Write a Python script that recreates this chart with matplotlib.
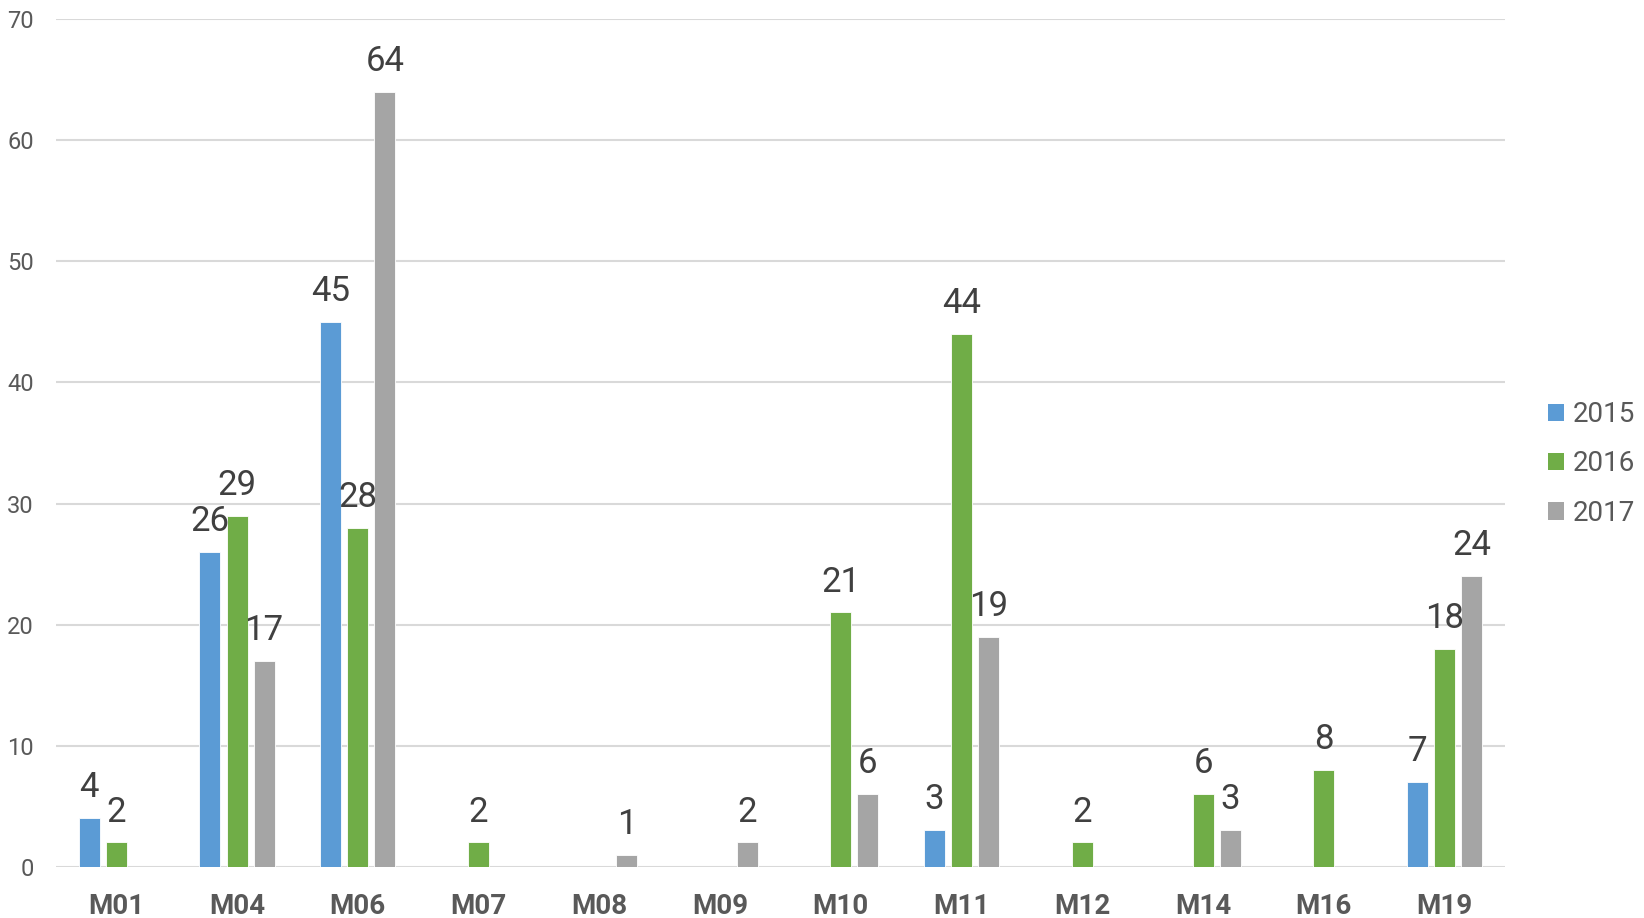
import numpy as np
import matplotlib.pyplot as plt
from matplotlib.patches import Patch

plt.rcParams['font.family'] = ['Roboto', 'DejaVu Sans']

# chart values
categories = ['M01', 'M04', 'M06', 'M07', 'M08', 'M09', 'M10', 'M11', 'M12', 'M14', 'M16', 'M19']
years = ['2015', '2016', '2017']
v2015 = [4, 26, 45, 0, 0, 0, 0, 3, 0, 0, 0, 7]
v2016 = [2, 29, 28, 2, 0, 0, 21, 44, 2, 6, 8, 18]
v2017 = [0, 17, 64, 0, 1, 2, 6, 19, 0, 3, 0, 24]
yticks = [0, 10, 20, 30, 40, 50, 60, 70]

colors = ['#5B9BD5', '#70AD47', '#A5A5A5']

fig = plt.figure(figsize=(16.44, 9.18), dpi=100)
ax = fig.add_axes([0.034, 0.0559, 0.8815, 0.9231])

x = np.arange(len(categories))
width = 0.174
step = 0.224

for i, (vals, c) in enumerate(zip([v2015, v2016, v2017], colors)):
    pos = x + (i - 1) * step
    ax.bar(pos, vals, width, color=c, edgecolor='white', linewidth=0.6, zorder=3)
    for p, v in zip(pos, vals):
        if v:  # empty cells carry no label
            ax.annotate(str(v), (p, v), xytext=(0, 10), textcoords='offset points',
                        ha='center', va='bottom', fontsize=25, color='#404040', zorder=4)

ax.set_xlim(-0.5, len(categories) - 0.5)
ax.set_ylim(0, 70)
ax.set_yticks(yticks)
ax.set_xticks(x)
ax.set_xticklabels(categories, fontsize=20, fontweight='bold', color='#595959')
ax.tick_params(axis='x', length=0, pad=19)
ax.tick_params(axis='y', length=0, pad=16, labelsize=17, labelcolor='#595959')
ax.grid(axis='y', color='#D9D9D9', linewidth=1.5, zorder=0)
ax.set_axisbelow(True)
for s in ax.spines.values():
    s.set_visible(False)

handles = [Patch(facecolor=c, edgecolor='none') for c in colors]
fig.legend(handles, years, loc='center left', bbox_to_anchor=(0.9416, 0.4946),
           frameon=False, fontsize=20, labelcolor='#595959', handlelength=0.58,
           handleheight=0.58, handletextpad=0.3, labelspacing=0.8,
           borderpad=0, borderaxespad=0)

fig.savefig('out.png', dpi=100)
